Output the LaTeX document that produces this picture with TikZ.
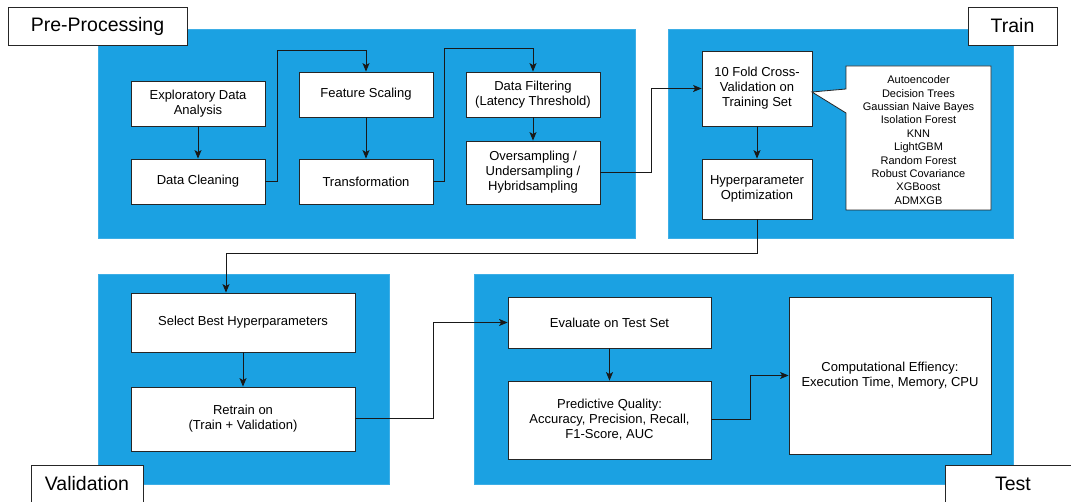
\documentclass[tikz,border=0pt]{standalone}
\usepackage{fontspec}
\setmainfont{Liberation Sans}
\usetikzlibrary{arrows.meta}
\definecolor{panelblue}{HTML}{1BA1E2}
\definecolor{panelline}{HTML}{3DAEE6}
\begin{document}
\begin{tikzpicture}[x=1pt,y=-1pt]
\tikzstyle{pn} = [fill=panelblue,draw=panelline,line width=0.8pt] %stage panel
\tikzstyle{lb} = [draw=black!85,fill=white,line width=0.8pt,inner sep=0pt,font=\fontsize{19.5}{22}\selectfont] %stage label
\tikzstyle{bx} = [draw=black!85,fill=white,line width=0.8pt,inner sep=0pt,align=center,font=\fontsize{13}{15}\selectfont] %step box
\tikzstyle{ar} = [-{Stealth[length=8.5pt,width=7pt,inset=2pt]},line width=1pt,black!90] %arrow
\useasboundingbox(0,0)rectangle(1071,502);
% panels
\draw[pn](98,29)rectangle(635,238);
\draw[pn](668,29)rectangle(1013,238);
\draw[pn](98,274)rectangle(389,484);
\draw[pn](474,274)rectangle(1013,484);
% pre-processing
\node[bx,minimum width=134,minimum height=45](eda)at(198,103.5){Exploratory Data\\Analysis};
\node[bx,minimum width=134,minimum height=45](dc)at(198,181.5){Data Cleaning};
\node[bx,minimum width=134,minimum height=45](fs)at(366,94.5){Feature Scaling};
\node[bx,minimum width=134,minimum height=45](tf)at(366,181.5){Transformation};
\node[bx,minimum width=134,minimum height=45](df)at(533,94.5){Data Filtering\\(Latency Threshold)};
\node[bx,minimum width=134,minimum height=63](os)at(533,172.5){Oversampling /\\Undersampling /\\Hybridsampling};
% train
\node[bx,minimum width=110,minimum height=75](cv)at(757,88.5){10 Fold Cross-\\Validation on\\Training Set};
\node[bx,minimum width=110,minimum height=60](ho)at(757,189){Hyperparameter\\Optimization};
\draw[draw=black!85,fill=white,line width=0.8pt](846,66)--(991,66)--(991,210)--(846,210)--(846,113)--(812,92)--(846,89)--cycle;
\node[align=center,inner sep=0pt,font=\fontsize{11}{13.4}\selectfont](ml)at(918.5,140){Autoencoder\\Decision Trees\\Gaussian Naive Bayes\\Isolation Forest\\KNN\\LightGBM\\Random Forest\\Robust Covariance\\XGBoost\\ADMXGB};
% validation
\node[bx,minimum width=224,minimum height=59](sb)at(243,322.5){Select Best Hyperparameters};
\node[bx,minimum width=224,minimum height=64](rt)at(243,419){Retrain on\\(Train + Validation)};
% test
\node[bx,minimum width=203,minimum height=51](ev)at(609.5,322.5){Evaluate on Test Set};
\node[bx,minimum width=203,minimum height=78](pq)at(609.5,420){Predictive Quality:\\Accuracy, Precision, Recall,\\F1-Score, AUC};
\node[bx,minimum width=202,minimum height=157](ce)at(890,375.5){Computational Effiency:\\Execution Time, Memory, CPU};
% labels
\node[lb,minimum width=179,minimum height=38](lpre)at(97.5,26){Pre-Processing};
\node[lb,minimum width=89,minimum height=38](ltrain)at(1012.5,26){Train};
\node[lb,minimum width=112,minimum height=38](lval)at(87,484){Validation};
\node[lb,minimum width=136,minimum height=38](ltest)at(1013,484){Test};
% arrows
\draw[ar](eda)--(dc);
\draw[ar](dc.east)--++(12,0)|-([yshift=21]fs.north)--(fs.north);
\draw[ar](fs)--(tf);
\draw[ar](tf.east)--++(11,0)|-([yshift=23]df.north)--(df.north);
\draw[ar](df)--(os);
\draw[ar](os.east)--++(51,0)|-(cv.west);
\draw[ar](cv)--(ho);
\draw[ar](ho.south)--++(0,34)-|([xshift=-17]sb.north);
\draw[ar](sb)--(rt);
\draw[ar](rt.east)--++(78,0)|-(ev.west);
\draw[ar](ev)--(pq);
\draw[ar](pq.east)--++(39,0)|-(ce.west);
\end{tikzpicture}
\end{document}
